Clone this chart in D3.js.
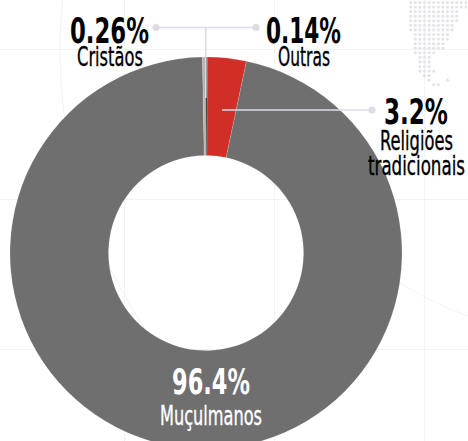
<!DOCTYPE html>
<html>
<head>
<meta charset="utf-8">
<script src="https://cdn.jsdelivr.net/npm/d3@7/dist/d3.min.js"></script>
<style>
html,body{margin:0;padding:0;background:#fff;overflow:hidden}
svg{display:block}
text{font-family:"DejaVu Sans Condensed","DejaVu Sans",sans-serif;font-stretch:condensed}
</style>
</head>
<body>
<svg id="chart" width="468" height="441"></svg>
<script>
// Religious affiliation shares, clockwise from the top of the ring
const religions = ["Religiões tradicionais", "Muçulmanos", "Cristãos", "Outras"];
const shares = [3.2, 96.4, 0.26, 0.14];
const sliceColors = ["#d12e27", "#6f6f6f", "#b4b4b4", "#333333"];

// Backdrop grid and dotted map: first/last column of dots per row
const gridX = [124, 274, 424];
const gridY = [49, 199, 349];
const mapRows = [[0,12],[0,12],[0,10],[0,10],[0,10],[0,9],[0,9],[1,8],[1,8],[1,7],[1,7],[1,5],[2,4],[2,4],[2,4],[2,5],[3,4],[4,4],[5,6]];
const mapExtras = [[17,8]];

const svg = d3.select("#chart");
const width = 468, height = 441;
const cx = 206, cy = 253, outerR = 196, innerR = 97.5;

// Faint backdrop
const back = svg.append("g").attr("fill", "none").attr("stroke", "#f3f3f5").attr("stroke-width", 1);
back.selectAll("line.v").data(gridX).join("line").attr("class", "v")
  .attr("x1", d => d + .5).attr("x2", d => d + .5).attr("y1", 0).attr("y2", height);
back.selectAll("line.h").data(gridY).join("line").attr("class", "h")
  .attr("x1", 0).attr("x2", width).attr("y1", d => d + .5).attr("y2", d => d + .5);
const bigArc = d3.path();
bigArc.arc(560, 50, 500, Math.PI * 0.67, Math.PI * 1.12);
back.append("path").attr("d", bigArc.toString());
const lowArc = d3.path();
lowArc.moveTo(400, 283);
lowArc.quadraticCurveTo(432, 303, 468, 316);
back.append("path").attr("d", lowArc.toString());

// Dotted map in the upper right corner
const mapX = d3.scaleLinear().domain([0, 1]).range([410.7, 415.3]);
const mapY = d3.scaleLinear().domain([0, 1]).range([2.5, 7.07]);
const mapDots = mapRows.flatMap((r, i) => d3.range(r[0], r[1] + 1).map(c => [i, c])).concat(mapExtras);
svg.append("g").attr("fill", "#e4e4ec").selectAll("circle").data(mapDots).join("circle")
  .attr("cx", d => mapX(d[1])).attr("cy", d => mapY(d[0])).attr("r", 1.6);

// Ring
const startDeg = 0.4;
const pie = d3.pie().sort(null)
  .startAngle(startDeg * Math.PI / 180)
  .endAngle((startDeg + 360) * Math.PI / 180);
const arc = d3.arc().innerRadius(innerR).outerRadius(outerR);
svg.append("g").attr("transform", `translate(${cx},${cy})`)
  .selectAll("path").data(pie(shares)).join("path")
  .attr("d", arc)
  .attr("fill", (d, i) => sliceColors[i])
  .attr("stroke", "#ffffff").attr("stroke-opacity", .35).attr("stroke-width", .4);

// Leader lines
const leaderColor = "#dcdce4";
const leaders = svg.append("g").attr("stroke", leaderColor).attr("stroke-width", 1.6).attr("fill", "none");
leaders.append("line").attr("x1", 156).attr("x2", 256).attr("y1", 27.5).attr("y2", 27.5);
leaders.append("line").attr("x1", 205.8).attr("x2", 205.8).attr("y1", 27.5).attr("y2", 98);
leaders.append("line").attr("x1", 222).attr("x2", 372).attr("y1", 110).attr("y2", 110);
svg.append("g").attr("fill", leaderColor).selectAll("circle")
  .data([[156, 27.5], [256, 27.5], [372, 110]]).join("circle")
  .attr("cx", d => d[0]).attr("cy", d => d[1]).attr("r", 3.6);

// Labels: each one is squeezed horizontally to its set measure
const percentLabels = ["0.26%", "0.14%", "3.2%", "96.4%"];
const percentX = [70, 266, 384, 172];
const percentW = [79, 75, 64, 78];
const percentY = [43, 43, 124, 394];
const percentFill = ["#000", "#000", "#000", "#fff"];
const nameLabels = ["Cristãos", "Outras", "Religiões", "tradicionais", "Muçulmanos"];
const nameX = [77, 278, 380, 368, 160];
const nameW = [66, 52, 73, 97, 102];
const nameY = [65.5, 65.5, 149.5, 175, 425];
const nameFill = ["#000", "#000", "#000", "#000", "#fff"];

function fit(sel, xs, ys, ws) {
  sel.attr("transform", function (d, i) {
    const k = ws[i] / this.getComputedTextLength();
    return `translate(${xs[i]},${ys[i]}) scale(${k},1)`;
  });
}
svg.append("g").selectAll("text").data(percentLabels).join("text")
  .attr("font-size", 36).attr("font-weight", 700)
  .attr("fill", (d, i) => percentFill[i]).text(d => d)
  .call(fit, percentX, percentY, percentW);
svg.append("g").selectAll("text").data(nameLabels).join("text")
  .attr("font-size", 26)
  .attr("fill", (d, i) => nameFill[i])
  .attr("stroke", (d, i) => nameFill[i]).attr("stroke-width", .35).text(d => d)
  .call(fit, nameX, nameY, nameW);
</script>
</body>
</html>
